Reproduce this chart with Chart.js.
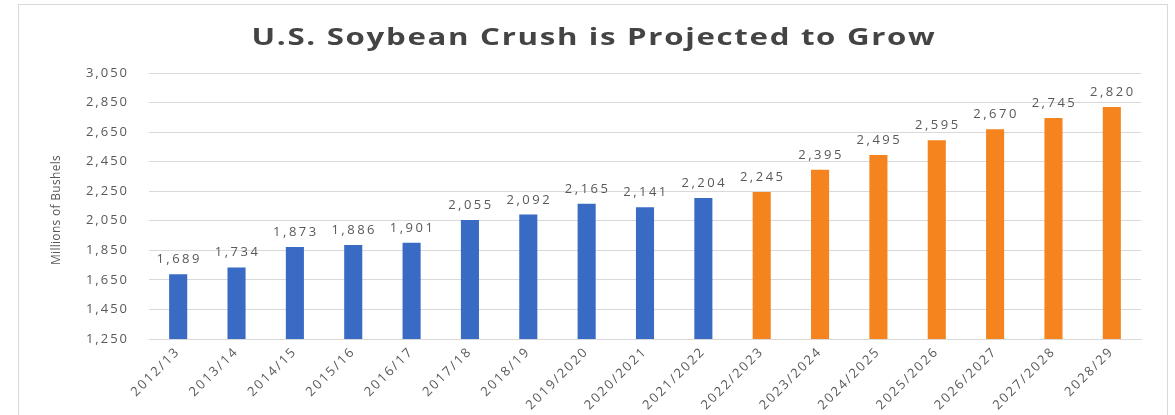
<!DOCTYPE html>
<html>
<head>
<meta charset="utf-8">
<script src="https://cdn.jsdelivr.net/npm/chart.js@4"></script>
<style>
  html, body { margin: 0; padding: 0; background: #ffffff; }
  #wrap { position: relative; width: 1175px; height: 415px; overflow: hidden; }
  #frame { position: absolute; left: 18px; top: 4px; width: 1150px; height: 430px;
           border: 1px solid #d9d9d9; box-sizing: border-box; }
  canvas { position: absolute; left: 0; top: 0; }
</style>
</head>
<body>
<div id="wrap">
  <div id="frame"></div>
  <canvas id="c" width="1175" height="415"></canvas>
</div>
<script>
// Marketing years
const years = [
  "2012/13", "2013/14", "2014/15", "2015/16", "2016/17", "2017/18", "2018/19",
  "2019/2020", "2020/2021", "2021/2022", "2022/2023", "2023/2024", "2024/2025",
  "2025/2026", "2026/2027", "2027/2028", "2028/29"
];
// Soybean crush, millions of bushels
const crush = [
  1689, 1734, 1873, 1886, 1901, 2055, 2092,
  2165, 2141, 2204, 2245, 2395, 2495,
  2595, 2670, 2745, 2820
];
// Number of leading years that are actual (the rest are projections)
const actualCount = 10;
// Y axis range
const yMin = 1250;
const yMax = 3050;
const yStep = 200;

const TITLE = "U.S. Soybean Crush is Projected to Grow";
const Y_TITLE = "Millions of Bushels";
const BLUE = "#3a6bc4";
const ORANGE = "#f5841f";
const barColors = crush.map((v, i) => i < actualCount ? BLUE : ORANGE);

const fmt = v => v.toLocaleString("en-US");

// Wide, airy lettering for the axis tick text
const spacing = {
  id: "spacing",
  beforeDraw(chart) { chart.ctx.letterSpacing = "2px"; }
};

// Chart heading and the vertical axis caption
const captions = {
  id: "captions",
  afterDraw(chart) {
    const ctx = chart.ctx;
    ctx.save();
    ctx.letterSpacing = "1.3px";
    ctx.font = "bold 24px 'Open Sans', sans-serif";
    ctx.fillStyle = "#444444";
    ctx.textAlign = "center";
    ctx.textBaseline = "alphabetic";
    ctx.translate(594, 45);
    ctx.scale(1.3, 1);
    ctx.fillText(TITLE, 0, 0);
    ctx.restore();

    const area = chart.chartArea;
    ctx.save();
    ctx.letterSpacing = "0.3px";
    ctx.font = "12px 'Liberation Sans Narrow', 'Open Sans', sans-serif";
    ctx.fillStyle = "#595959";
    ctx.textAlign = "center";
    ctx.textBaseline = "middle";
    ctx.translate(57, (area.top + area.bottom) / 2 + 4);
    ctx.rotate(-Math.PI / 2);
    ctx.fillText(Y_TITLE, 0, 0);
    ctx.restore();
  }
};

// Writes each bar's value just above it
const valueLabels = {
  id: "valueLabels",
  afterDatasetsDraw(chart) {
    const ctx = chart.ctx;
    const meta = chart.getDatasetMeta(0);
    ctx.save();
    ctx.letterSpacing = "2.5px";
    ctx.font = "13px 'Open Sans', sans-serif";
    ctx.fillStyle = "#595959";
    ctx.textAlign = "center";
    ctx.textBaseline = "alphabetic";
    meta.data.forEach((bar, i) => {
      ctx.fillText(fmt(crush[i]), bar.x + 1, bar.y - 11);
    });
    ctx.restore();
  }
};

new Chart(document.getElementById("c"), {
  type: "bar",
  data: {
    labels: years,
    datasets: [{
      data: crush,
      backgroundColor: barColors,
      borderWidth: 0,
      barPercentage: 0.31,
      categoryPercentage: 1.0
    }]
  },
  options: {
    responsive: false,
    animation: false,
    devicePixelRatio: 1,
    layout: { padding: { left: 44, right: 34, top: 73, bottom: 0 } },
    plugins: {
      legend: { display: false },
      tooltip: { enabled: false },
      title: { display: false }
    },
    scales: {
      x: {
        grid: { display: false, drawTicks: false },
        border: { color: "#d9d9d9" },
        ticks: {
          color: "#595959",
          font: { family: "'Open Sans', sans-serif", size: 13 },
          maxRotation: 45,
          minRotation: 45,
          padding: 5,
          autoSkip: false
        },
        afterFit(scale) { scale.height = 76; }
      },
      y: {
        min: yMin,
        max: yMax,
        grid: { color: "#d9d9d9", drawTicks: false },
        border: { display: false },
        ticks: {
          stepSize: yStep,
          color: "#595959",
          font: { family: "'Open Sans', sans-serif", size: 13 },
          padding: 20,
          callback: v => fmt(v)
        },
        afterFit(scale) { scale.width = 105; }
      }
    }
  },
  plugins: [spacing, valueLabels, captions]
});
</script>
</body>
</html>
